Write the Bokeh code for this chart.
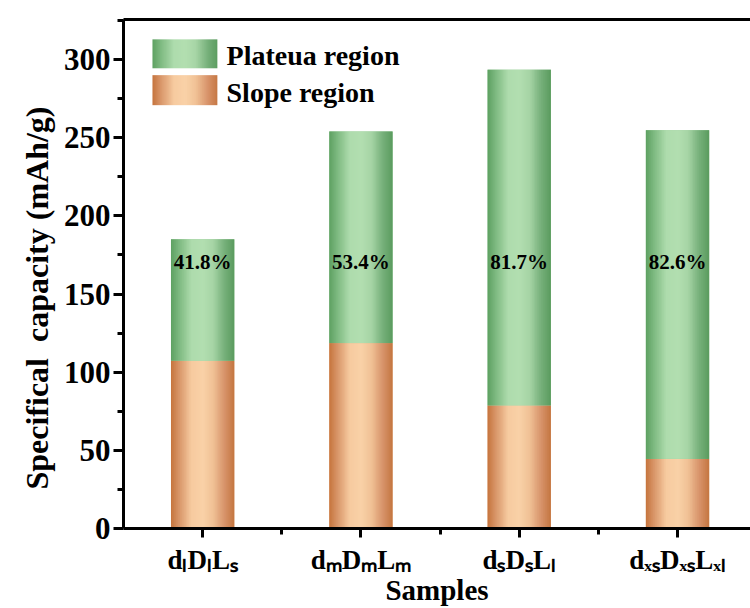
import numpy as np
from bokeh.plotting import figure
from bokeh.models import FixedTicker, LinearAxis, Range1d, Label
from bokeh.core.properties import value
from bokeh.embed import file_html
from bokeh.resources import INLINE

# ---- data ----
samples = ["dₗDₗLₛ", "dₘDₘLₘ", "dₛDₛLₗ", "dₓₛDₓₛLₓₗ"]
slope = [107.3, 118.6, 78.7, 44.5]
total = [185.0, 254.0, 293.5, 254.8]
plateau = [t - s for t, s in zip(total, slope)]
pct_labels = ["41.8%", "53.4%", "81.7%", "82.6%"]
y_ticks = [0, 50, 100, 150, 200, 250, 300]
y_minor = [25, 75, 125, 175, 225, 275, 325]

xs = list(range(1, len(samples) + 1))
x_minor = [x + 0.5 for x in xs[:-1]]

FONT = "Liberation Serif"
BAR_W = 0.4

def gradient(stops, n=96):
    pos = [s[0] for s in stops]
    cols = np.array([[int(c[1:3], 16), int(c[3:5], 16), int(c[5:7], 16)] for _, c in stops], float)
    t = np.linspace(0, 1, n)
    rgb = np.stack([np.interp(t, pos, cols[:, i]) for i in range(3)], axis=1)
    img = np.empty((2, n), dtype=np.uint32)
    view = img.view(dtype=np.uint8).reshape((2, n, 4))
    view[:, :, 0:3] = rgb.astype(np.uint8)[None, :, :]
    view[:, :, 3] = 255
    return img

orange = gradient([(0.0, "#C7763F"), (0.12, "#D99669"), (0.32, "#F7CBA0"), (0.5, "#FAD2A8"),
                   (0.66, "#F1C296"), (0.85, "#D8936A"), (1.0, "#C57641")])
green = gradient([(0.0, "#5FA263"), (0.12, "#7EBA81"), (0.32, "#AEDCAD"), (0.5, "#B3DFB1"),
                  (0.66, "#A7D5A6"), (0.85, "#76B07A"), (1.0, "#5B9C5F")])

p = figure(width=750, height=608, output_backend="svg", toolbar_location=None,
           x_range=Range1d(0.5, 4.461), y_range=Range1d(0, 325.6),
           min_border_left=123, min_border_right=0, min_border_top=19, min_border_bottom=79)
p.outline_line_color = None
p.grid.grid_line_color = None
p.background_fill_color = "white"
p.border_fill_color = "white"

# base bars (solid) under the gradients
p.vbar(x=xs, bottom=0, top=slope, width=BAR_W, fill_color="#E9B083", line_color=None)
p.vbar(x=xs, bottom=slope, top=total, width=BAR_W, fill_color="#96CB96", line_color=None)

# gradient fills
n = len(xs)
p.image_rgba(image=[orange] * n, x=[x - BAR_W / 2 for x in xs], y=[0] * n,
             dw=[BAR_W] * n, dh=slope)
p.image_rgba(image=[green] * n, x=[x - BAR_W / 2 for x in xs], y=slope,
             dw=[BAR_W] * n, dh=plateau)

# percentage labels
label_y = 170.7
p.text(x=xs, y=[label_y] * n, text=pct_labels, text_align="center", text_baseline="middle",
       text_font=value(FONT), text_font_style="bold", text_font_size="21px", text_color="black")

# legend (manual, gradient swatches)
p.image_rgba(image=[green], x=0.683, y=294.4, dw=0.41, dh=18.5)
p.image_rgba(image=[orange], x=0.683, y=270.8, dw=0.41, dh=19.2)
for txt, yy in [("Plateua region", 302.7), ("Slope region", 279.2)]:
    p.add_layout(Label(x=1.151, y=yy, text=txt, text_baseline="middle", text_align="left",
                       text_font=FONT, text_font_style="bold", text_font_size="28px",
                       text_color="black"))

# axes
xa = p.xaxis[0]
xa.ticker = FixedTicker(ticks=xs, minor_ticks=x_minor)
xa.major_label_overrides = {x: s for x, s in zip(xs, samples)}
xa.axis_label = "Samples"
ya = p.yaxis[0]
ya.ticker = FixedTicker(ticks=y_ticks, minor_ticks=y_minor)
ya.axis_label = "Specifical\u00a0 capacity (mAh/g)" + "\u00a0" * 6

for ax in (xa, ya):
    ax.axis_line_width = 3
    ax.axis_line_color = "black"
    ax.major_tick_line_width = 3
    ax.minor_tick_line_width = 3
    ax.major_tick_in = 0
    ax.major_tick_out = 10
    ax.minor_tick_in = 0
    ax.minor_tick_out = 6
    ax.major_label_text_font = FONT
    ax.major_label_text_font_style = "bold"
    ax.major_label_text_color = "black"
    ax.axis_label_text_font = FONT
    ax.axis_label_text_font_style = "bold"
    ax.axis_label_text_color = "black"

xa.major_label_text_font_size = "27px"
xa.major_label_standoff = 7
xa.axis_label_standoff = -4
xa.axis_label_text_font_size = "29px"
xa.major_tick_out = 9
ya.major_label_text_font_size = "31px"
ya.major_label_standoff = 3
ya.axis_label_standoff = 6
ya.axis_label_text_font_size = "32px"

top = LinearAxis(ticker=FixedTicker(ticks=[]), major_label_text_font_size="0px",
                 axis_line_width=3, axis_line_color="black",
                 major_tick_line_color=None, minor_tick_line_color=None)
p.add_layout(top, "above")

open("out.html", "w").write(file_html(p, INLINE))
